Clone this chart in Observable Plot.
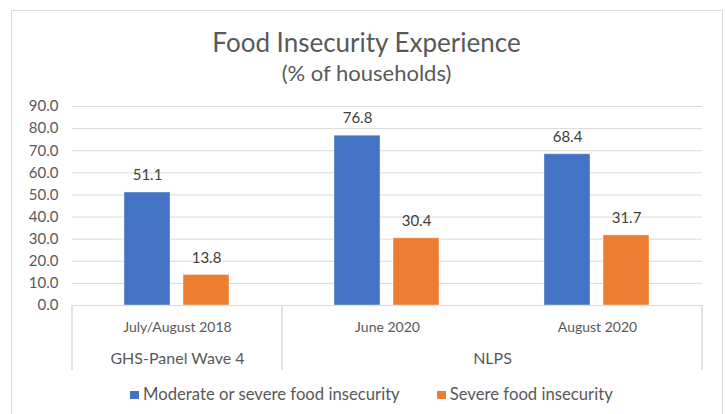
<!DOCTYPE html>
<html>
<head>
<meta charset="utf-8">
<script src="https://cdn.jsdelivr.net/npm/d3@7"></script>
<script src="https://cdn.jsdelivr.net/npm/@observablehq/plot@0.6"></script>
<style>
  html, body { margin: 0; padding: 0; background: #fff; }
  body { font-family: Lato, "Open Sans", sans-serif; color: #595959; }
  #wrap { position: relative; width: 726px; height: 414px; overflow: hidden; }
  #border { position: absolute; left: 11px; top: 10px; width: 712px; height: 430px;
            border: 1.5px solid #d9d9d9; box-sizing: border-box; }
  .title { position: absolute; left: 11px; width: 711px; text-align: center; line-height: 1.2; white-space: nowrap; }
  #t1 { top: 26.5px; font-size: 26px; }
  #t2 { top: 60px; font-size: 22px; }
  #chart { position: absolute; left: 0; top: 90px; }
  #legend { position: absolute; left: 130px; top: 384px; display: flex; align-items: center;
            gap: 37px; font-size: 16.7px; line-height: 1.2; white-space: nowrap; }
  .item { display: flex; align-items: center; gap: 4px; }
  .sw { width: 9px; height: 8px; display: inline-block; margin-top: 2px; }
</style>
</head>
<body>
<div id="wrap">
  <div id="border"></div>
  <div class="title" id="t1"></div>
  <div class="title" id="t2"></div>
  <div id="chart"></div>
  <div id="legend"></div>
</div>
<script>
// ---- data ----
const titleText = "Food Insecurity Experience";
const subtitleText = "(% of households)";
const periods = ["July/August 2018", "June 2020", "August 2020"];
const surveys = ["GHS-Panel Wave 4", "NLPS", "NLPS"];
const seriesNames = ["Moderate or severe food insecurity", "Severe food insecurity"];
const moderateOrSevere = [51.1, 76.8, 68.4];
const severe = [13.8, 30.4, 31.7];
const seriesColors = ["#4472C4", "#ED7D31"];
const yTicks = [0, 10, 20, 30, 40, 50, 60, 70, 80, 90];

document.getElementById("t1").textContent = titleText;
document.getElementById("t2").textContent = subtitleText;

const seriesValues = [moderateOrSevere, severe];
const rows = [];
periods.forEach((p, i) => {
  seriesNames.forEach((s, j) => rows.push({period: p, series: s, value: seriesValues[j][i]}));
});

// group (survey) labels: centred over the span of periods they cover
const groups = [];
surveys.forEach((s, i) => {
  const g = groups.find(d => d.survey === s);
  if (g) g.periods.push(periods[i]); else groups.push({survey: s, periods: [periods[i]]});
});
const groupCentered = [], groupEdge = [];
groups.forEach(g => {
  const n = g.periods.length;
  if (n % 2 === 1) groupCentered.push({period: g.periods[(n - 1) / 2], survey: g.survey});
  else groupEdge.push({period: g.periods[n / 2], survey: g.survey});
});

const labelColor = "#595959";
const grid = "#d9d9d9";

const plot = Plot.plot({
  width: 726,
  height: 290,
  marginLeft: 71,
  marginRight: 23,
  marginTop: 16,
  marginBottom: 75,
  style: {fontFamily: "Lato, 'Open Sans', sans-serif", fontSize: "14px", color: labelColor, background: "transparent", overflow: "visible"},
  fx: {domain: periods, padding: 0, label: null, axis: null},
  x: {domain: seriesNames, paddingInner: 0.2167, paddingOuter: 0.864, axis: null, label: null},
  y: {domain: [0, 90], axis: null, label: null},
  color: {domain: seriesNames, range: seriesColors},
  marks: [
    Plot.gridY(yTicks, {stroke: grid, strokeOpacity: 1, strokeWidth: 1}),
    Plot.barY(rows, {fx: "period", x: "series", y: "value", fill: "series", stroke: "#fff", strokeOpacity: 0.5, strokeWidth: 0.8}),
    Plot.text(rows, {fx: "period", x: "series", y: "value", text: d => d.value.toFixed(1),
      dy: -17, fill: "#404040", fontSize: 15, lineAnchor: "middle"}),
    Plot.axisY({ticks: yTicks, tickFormat: d3.format(".1f"), tickSize: 0, tickPadding: 14, fontSize: 15, label: null, color: labelColor}),
    Plot.axisFx({anchor: "bottom", tickSize: 0, tickPadding: 17, fontSize: 14, label: null, color: labelColor}),
    Plot.text(groupCentered, {fx: "period", text: "survey", frameAnchor: "bottom", textAnchor: "middle",
      lineAnchor: "middle", dy: 53, fontSize: 16, fill: labelColor}),
    Plot.text(groupEdge, {fx: "period", text: "survey", frameAnchor: "bottom-left", textAnchor: "middle",
      lineAnchor: "middle", dy: 53, fontSize: 16, fill: labelColor})
  ]
});

// dividers of the two-level category axis, from the fx scale
const fx = plot.scale("fx");
const ys = plot.scale("y");
const y0 = ys.apply(0);
const bounds = [fx.apply(periods[0])];
surveys.forEach((s, i) => { if (i > 0 && s !== surveys[i - 1]) bounds.push(fx.apply(periods[i])); });
bounds.push(fx.apply(periods[periods.length - 1]) + fx.bandwidth);
d3.select(plot).append("g").selectAll("line").data(bounds).join("line")
  .attr("x1", d => d).attr("x2", d => d)
  .attr("y1", y0).attr("y2", y0 + 65)
  .attr("stroke", grid).attr("stroke-width", 1.5);

document.getElementById("chart").appendChild(plot);

// legend
const lg = d3.select("#legend");
seriesNames.forEach((s, i) => {
  const it = lg.append("div").attr("class", "item");
  it.append("span").attr("class", "sw").style("background", seriesColors[i]);
  it.append("span").text(s);
});
</script>
</body>
</html>
